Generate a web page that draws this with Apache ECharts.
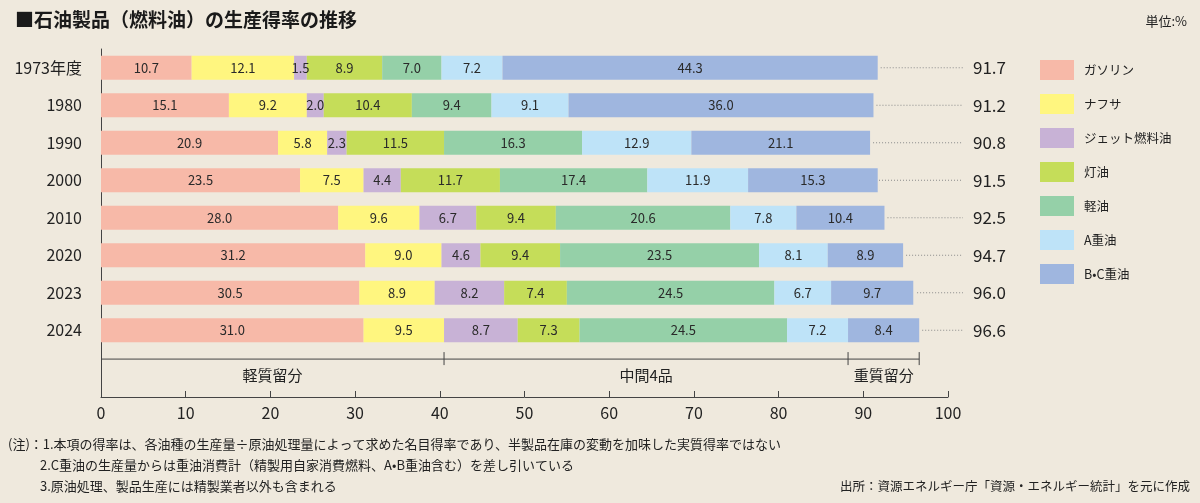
<!DOCTYPE html>
<html>
<head>
<meta charset="utf-8">
<script src="https://cdn.jsdelivr.net/npm/echarts@6/dist/echarts.min.js"></script>
<style>
  html, body { margin: 0; padding: 0; background: #efe9dd; }
  #chart { width: 1200px; height: 503px; }
</style>
</head>
<body>
<div id="chart"></div>
<script>
var years = ['1973年度', '1980', '1990', '2000', '2010', '2020', '2023', '2024'];
var seriesNames = ['ガソリン', 'ナフサ', 'ジェット燃料油', '灯油', '軽油', 'A重油', 'B•C重油'];
var gasoline = [10.7, 15.1, 20.9, 23.5, 28.0, 31.2, 30.5, 31.0];
var naphtha  = [12.1, 9.2, 5.8, 7.5, 9.6, 9.0, 8.9, 9.5];
var jet      = [1.5, 2.0, 2.3, 4.4, 6.7, 4.6, 8.2, 8.7];
var kerosene = [8.9, 10.4, 11.5, 11.7, 9.4, 9.4, 7.4, 7.3];
var diesel   = [7.0, 9.4, 16.3, 17.4, 20.6, 23.5, 24.5, 24.5];
var heavyA   = [7.2, 9.1, 12.9, 11.9, 7.8, 8.1, 6.7, 7.2];
var heavyBC  = [44.3, 36.0, 21.1, 15.3, 10.4, 8.9, 9.7, 8.4];
var totals   = [91.7, 91.2, 90.8, 91.5, 92.5, 94.7, 96.0, 96.6];
var groupNames = ['軽質留分', '中間4品', '重質留分'];
var xTicks = [0, 10, 20, 30, 40, 50, 60, 70, 80, 90, 100];

var colors = ['#f7b9a8', '#fff67f', '#c8b2d6', '#c5dd59', '#95d0a8', '#bee3f8', '#9fb6df'];
var values = [gasoline, naphtha, jet, kerosene, diesel, heavyA, heavyBC];
var font = '"Noto Sans CJK JP", "Noto Sans", sans-serif';

// 分類の区切り(2024年度の値で計算)
var last = years.length - 1;
var lightEnd = gasoline[last] + naphtha[last];
var middleEnd = lightEnd + jet[last] + kerosene[last] + diesel[last] + heavyA[last];
var heavyEnd = middleEnd + heavyBC[last];
var groups = [[0, lightEnd, groupNames[0]], [lightEnd, middleEnd, groupNames[1]], [middleEnd, heavyEnd, groupNames[2]]];

var series = [];
for (var s = 0; s < seriesNames.length; s++) {
  series.push({
    name: seriesNames[s],
    type: 'bar',
    stack: 'total',
    xAxisIndex: 0,
    yAxisIndex: 0,
    barWidth: 24,
    animation: false,
    itemStyle: { color: colors[s] },
    label: {
      show: true,
      position: 'inside',
      color: '#2a2a2a',
      fontSize: 13,
      fontFamily: font,
      formatter: function (p) { return p.value.toFixed(1); }
    },
    data: values[s]
  });
}

// 合計値(点線+数字)
series.push({
  type: 'custom',
  xAxisIndex: 0,
  yAxisIndex: 0,
  animation: false,
  clip: false,
  silent: true,
  data: totals.map(function (t, i) { return [t, i]; }),
  renderItem: function (params, api) {
    var p = api.coord([api.value(0), api.value(1)]);
    var edge = api.coord([100, api.value(1)]);
    return {
      type: 'group',
      children: [{
        type: 'line',
        shape: { x1: p[0] + 3, y1: p[1], x2: edge[0] + 15, y2: p[1] },
        style: { stroke: '#8a8a8a', lineWidth: 1, lineDash: [1, 2] }
      }, {
        type: 'text',
        x: edge[0] + 25,
        y: p[1],
        style: {
          text: api.value(0).toFixed(1),
          fill: '#222',
          fontSize: 17,
          fontFamily: font,
          verticalAlign: 'middle',
          align: 'left'
        }
      }]
    };
  }
});

// 軽質留分・中間4品・重質留分の括り
series.push({
  type: 'custom',
  xAxisIndex: 1,
  yAxisIndex: 1,
  animation: false,
  silent: true,
  data: groups,
  renderItem: function (params, api) {
    var a = api.coord([api.value(0), 0.79]);
    var b = api.coord([api.value(1), 0.79]);
    var mid = api.coord([(api.value(0) + api.value(1)) / 2, 0.46]);
    return {
      type: 'group',
      children: [{
        type: 'line',
        shape: { x1: a[0], y1: a[1], x2: b[0], y2: b[1] },
        style: { stroke: '#444', lineWidth: 1 }
      }, {
        type: 'line',
        shape: { x1: b[0], y1: b[1] - 7, x2: b[0], y2: b[1] + 6 },
        style: { stroke: '#444', lineWidth: 1 }
      }, {
        type: 'text',
        x: mid[0],
        y: mid[1],
        style: {
          text: groups[params.dataIndex][2],
          fill: '#222',
          fontSize: 15,
          fontFamily: font,
          align: 'center',
          verticalAlign: 'middle'
        }
      }]
    };
  }
});

var chart = echarts.init(document.getElementById('chart'));
chart.setOption({
  backgroundColor: '#efe9dd',
  textStyle: { fontFamily: font },
  title: [{
    text: '■石油製品（燃料油）の生産得率の推移',
    left: 10,
    top: 5,
    textStyle: { fontSize: 19, fontWeight: 'bold', color: '#1a1a1a', fontFamily: font }
  }, {
    text: '単位:%',
    right: 8,
    top: 10,
    textStyle: { fontSize: 13, fontWeight: 'normal', color: '#222', fontFamily: font }
  }],
  legend: {
    data: seriesNames,
    orient: 'vertical',
    left: 1040,
    top: 60,
    padding: 0,
    itemWidth: 34,
    itemHeight: 20,
    itemGap: 14,
    icon: 'rect',
    selectedMode: false,
    textStyle: { fontSize: 12.5, color: '#222', fontFamily: font, padding: [0, 0, 0, 5] }
  },
  graphic: [{
    type: 'text',
    left: 8,
    top: 438,
    style: {
      text: '(注)：1.本項の得率は、各油種の生産量÷原油処理量によって求めた名目得率であり、半製品在庫の変動を加味した実質得率ではない',
      fill: '#222', fontSize: 13, fontFamily: font
    }
  }, {
    type: 'text',
    left: 40,
    top: 459,
    style: {
      text: '2.C重油の生産量からは重油消費計（精製用自家消費燃料、A•B重油含む）を差し引いている',
      fill: '#222', fontSize: 13, fontFamily: font
    }
  }, {
    type: 'text',
    left: 40,
    top: 480,
    style: {
      text: '3.原油処理、製品生産には精製業者以外も含まれる',
      fill: '#222', fontSize: 13, fontFamily: font
    }
  }, {
    type: 'text',
    right: 10,
    top: 480,
    style: {
      text: '出所：資源エネルギー庁「資源・エネルギー統計」を元に作成',
      fill: '#222', fontSize: 12.5, fontFamily: font
    }
  }],
  grid: [
    { left: 101, width: 847, top: 49, height: 300 },
    { left: 101, width: 847, top: 349, height: 48 }
  ],
  xAxis: [{
    gridIndex: 0,
    type: 'value',
    min: 0,
    max: 100,
    show: false
  }, {
    gridIndex: 1,
    type: 'value',
    min: 0,
    max: 100,
    interval: 10,
    axisLine: { show: true, lineStyle: { color: '#444', width: 1 } },
    axisTick: { show: true, inside: true, length: 6, lineStyle: { color: '#444' } },
    axisLabel: {
      fontSize: 16, color: '#222', margin: 8, fontFamily: font,
      formatter: function (v) { return xTicks.indexOf(v) >= 0 ? String(v) : ''; }
    },
    splitLine: { show: false }
  }],
  yAxis: [{
    gridIndex: 0,
    type: 'category',
    data: years,
    inverse: true,
    axisLine: { show: true, lineStyle: { color: '#444', width: 1 } },
    axisTick: { show: false },
    axisLabel: { fontSize: 16, color: '#222', margin: 19, fontFamily: font }
  }, {
    gridIndex: 1,
    type: 'value',
    min: 0,
    max: 1,
    axisLine: { show: true, lineStyle: { color: '#444', width: 1 } },
    axisTick: { show: false },
    axisLabel: { show: false },
    splitLine: { show: false }
  }],
  series: series
});
</script>
</body>
</html>
